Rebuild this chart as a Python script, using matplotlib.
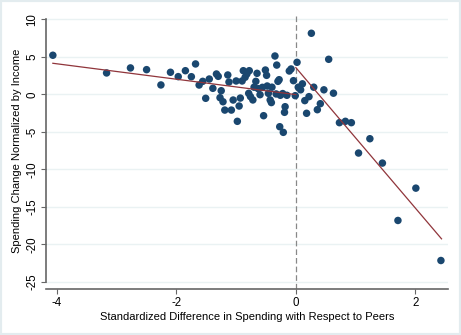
import matplotlib
matplotlib.use("Agg")
import matplotlib.pyplot as plt
from matplotlib.patches import Rectangle

plt.rcParams['font.family'] = ['Liberation Sans', 'DejaVu Sans']

# Binned observations: standardized spending gap vs. spending change
diff_x = [
    -4.07, -3.17, -2.77, -2.50, -2.26, -2.10, -1.97, -1.85, -1.68, -1.75,
    -1.62, -1.56, -1.51, -1.45, -1.39, -1.33, -1.30, -1.25, -1.27, -1.22,
    -1.19, -1.14, -1.12, -1.08, -1.05, -0.98, -1.00, -0.95, -0.93, -0.88,
    -0.90, -0.85, -0.82, -0.78, -0.79, -0.76, -0.72, -0.65, -0.67, -0.63,
    -0.60, -0.51, -0.49, -0.54, -0.56, -0.48, -0.46, -0.43, -0.41, -0.35,
    -0.32, -0.30, -0.28, -0.26, -0.27, -0.21, -0.18, -0.19, -0.15, -0.11,
    -0.08, -0.04, -0.01, 0.02, 0.04, 0.08, 0.11, 0.15, 0.18, 0.22,
    0.26, 0.30, 0.36, 0.41, 0.47, 0.55, 0.63, 0.73, 0.83, 0.93,
    1.05, 1.24, 1.45, 1.71, 2.01, 2.43, -0.40, -0.33, -0.22, -0.70,
]
spend_chg = [
    5.21, 2.85, 3.52, 3.29, 1.25, 2.94, 2.36, 3.15, 4.05, 2.35,
    1.24, 1.73, -0.53, 2.04, 0.80, 2.71, 2.40, 0.48, -0.45, -0.99,
    -2.10, 2.58, 1.64, -2.10, -0.76, -3.60, 1.78, -1.56, -0.50, 3.15,
    1.78, 2.27, 2.71, 3.15, 0.13, -0.31, -0.75, 2.80, 1.73, 0.75,
    -0.05, 3.24, 2.53, -2.85, 0.93, 1.11, 0.13, -0.75, -1.10, 5.11,
    3.90, 1.73, 1.95, -0.13, -4.32, -5.07, -1.65, -2.40, -0.13, 3.11,
    3.38, 1.82, -0.18, 4.27, 0.95, 0.60, 1.40, -0.84, -2.53, -0.31,
    8.14, 0.95, -2.05, -1.25, 0.60, 4.67, 0.15, -3.78, -3.60, -3.78,
    -7.83, -5.92, -9.17, -16.82, -12.51, -22.16, 0.95, 0.05, 0.10, 0.95,
]

# Fitted lines on each side of zero
fit_left_x = [-4.07, 0.0]
fit_left_y = [4.14, -0.04]
fit_right_x = [0.0, 2.44]
fit_right_y = [3.56, -19.27]

xticks = [-4, -2, 0, 2]
yticks = [-25, -20, -15, -10, -5, 0, 5, 10]

navy = '#1a476f'
maroon = '#90353b'
grid_c = '#eaf2f3'

fig = plt.figure(figsize=(4.61, 3.35), dpi=100)
fig.patch.set_facecolor('white')
fig.patches.append(Rectangle((0, 0), 1, 1, transform=fig.transFigure,
                             fill=False, edgecolor='#e3ecef', linewidth=3.0))

ax = fig.add_axes([0.1004, 0.1364, 0.8716, 0.8256])
ax.set_xlim(-4.18, 2.55)
ax.set_ylim(-26.0, 10.88)

for yv in yticks:
    ax.axhline(yv, color=grid_c, lw=1.0, zorder=0)

ax.axvline(0, color='#888888', lw=0.9, dashes=(4.5, 2.4), zorder=1)

ax.scatter(diff_x, spend_chg, s=29, color=navy, edgecolors='none', zorder=3)
ax.plot(fit_left_x, fit_left_y, color=maroon, lw=0.9, zorder=4)
ax.plot(fit_right_x, fit_right_y, color=maroon, lw=0.9, zorder=4)

ax.set_xticks(xticks)
ax.set_yticks(yticks)
ax.set_xticklabels([str(v) for v in xticks])
ax.set_yticklabels([str(v) for v in yticks], rotation=90, va='center')
ax.tick_params(axis='both', direction='out', length=3.5, width=0.8,
               color='#666666', labelsize=8.3, pad=2)

for side in ['top', 'right']:
    ax.spines[side].set_visible(False)
ax.spines['left'].set_bounds(-25, 10)
ax.spines['left'].set_color('#666666')
ax.spines['left'].set_linewidth(1.2)
ax.spines['bottom'].set_color('#666666')
ax.spines['bottom'].set_linewidth(1.2)

ax.set_xlabel('Standardized Difference in Spending with Respect to Peers',
              fontsize=8.0, labelpad=2)
ax.set_ylabel('Spending Change Normalized by Income', fontsize=8.0, labelpad=3)

fig.savefig('out.png', dpi=100, facecolor='white')
